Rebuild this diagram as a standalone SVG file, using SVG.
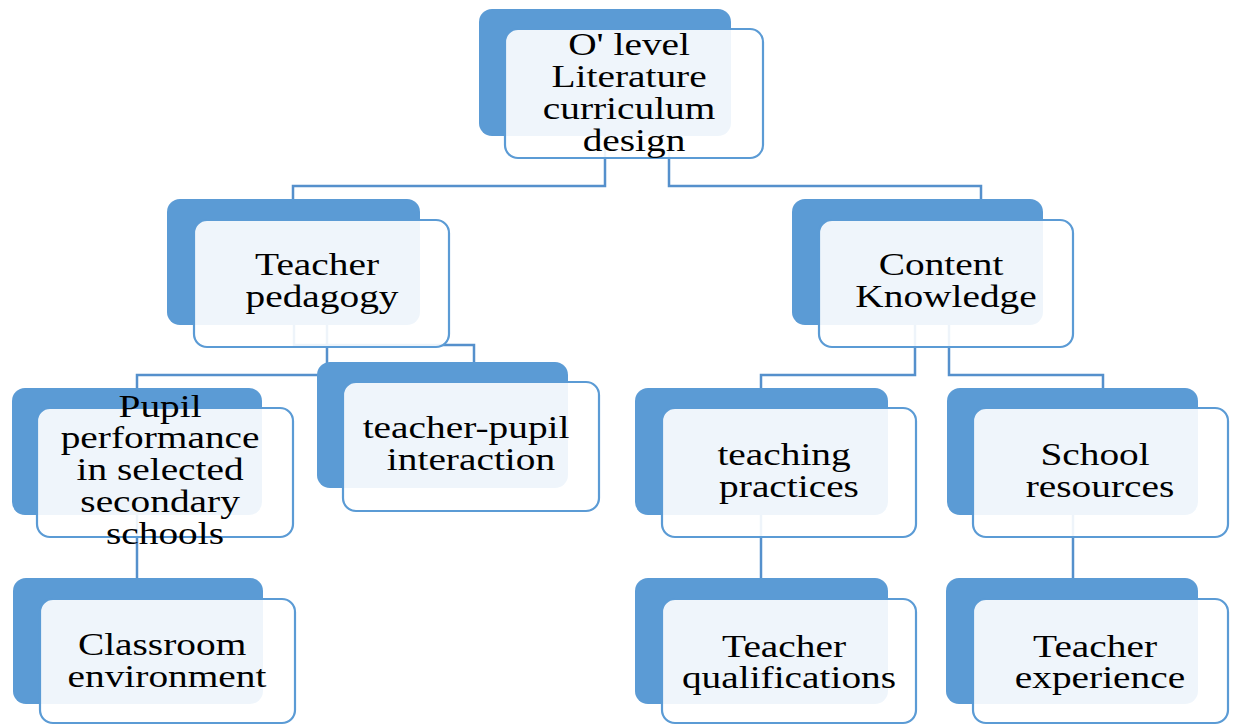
<svg xmlns="http://www.w3.org/2000/svg" width="1233" height="726" viewBox="0 0 1233 726">
  <style>
    .back { fill: #5B9BD5; }
    .front { fill: #ffffff; fill-opacity: 0.9; stroke: #5B9BD5; stroke-width: 2.2; }
    .link { fill: none; stroke: #5590CC; stroke-width: 2.5; }
    .t { font-family: "Liberation Serif", "Times New Roman", serif; font-size: 32px; fill: #000; text-anchor: middle; }
  </style>
  <rect width="1233" height="726" fill="#ffffff"/>

  <!-- connectors (drawn first, nodes sit on top) -->
  <g id="connectors">
    <path class="link" d="M605,136 V186 H293 V199"/>
    <path class="link" d="M669,136 V186 H981 V199"/>
    <path class="link" d="M294,325 V345 H474 V362"/>
    <path class="link" d="M327,325 V375 H137 V388"/>
    <path class="link" d="M915,325 V375 H761 V388"/>
    <path class="link" d="M949,325 V375 H1103 V388"/>
    <path class="link" d="M137,515 V578"/>
    <path class="link" d="M761,515 V578"/>
    <path class="link" d="M1073,515 V578"/>
  </g>

  <!-- root -->
  <g id="node-curriculum">
    <rect class="back" x="479" y="9" width="252" height="127" rx="13"/>
    <rect class="front" x="505" y="29" width="258" height="129" rx="13"/>
    <text class="t" transform="translate(634 0) scale(1.23 1)">
      <tspan x="0" y="55">O' level</tspan>
      <tspan x="0" y="87">Literature</tspan>
      <tspan x="0" y="119">curriculum</tspan>
      <tspan x="0" y="151">design</tspan>
    </text>
  </g>

  <!-- second level -->
  <g id="node-pedagogy">
    <rect class="back" x="167" y="199" width="253" height="126" rx="13"/>
    <rect class="front" x="194" y="220" width="255" height="127" rx="13"/>
    <text class="t" transform="translate(322 0) scale(1.23 1)">
      <tspan x="0" y="275">Teacher</tspan>
      <tspan x="0" y="307">pedagogy</tspan>
    </text>
  </g>

  <g id="node-content">
    <rect class="back" x="792" y="199" width="251" height="126" rx="13"/>
    <rect class="front" x="819" y="220" width="254" height="127" rx="13"/>
    <text class="t" transform="translate(946 0) scale(1.23 1)">
      <tspan x="0" y="275">Content</tspan>
      <tspan x="0" y="307">Knowledge</tspan>
    </text>
  </g>

  <!-- third level -->
  <g id="node-pupil">
    <rect class="back" x="12" y="388" width="250" height="127" rx="13"/>
    <rect class="front" x="37" y="408" width="256" height="129" rx="13"/>
    <text class="t" transform="translate(165 0) scale(1.23 1)">
      <tspan x="0" y="417">Pupil</tspan>
      <tspan x="0" y="448">performance</tspan>
      <tspan x="0" y="480">in selected</tspan>
      <tspan x="0" y="512">secondary</tspan>
      <tspan x="0" y="544">schools</tspan>
    </text>
  </g>

  <g id="node-interaction">
    <rect class="back" x="317" y="362" width="251" height="126" rx="13"/>
    <rect class="front" x="343" y="382" width="256" height="129" rx="13"/>
    <text class="t" transform="translate(471 0) scale(1.23 1)">
      <tspan x="0" y="438">teacher-pupil</tspan>
      <tspan x="0" y="470">interaction</tspan>
    </text>
  </g>

  <g id="node-practices">
    <rect class="back" x="635" y="388" width="253" height="127" rx="13"/>
    <rect class="front" x="662" y="408" width="254" height="129" rx="13"/>
    <text class="t" transform="translate(789 0) scale(1.23 1)">
      <tspan x="0" y="465">teaching</tspan>
      <tspan x="0" y="497">practices</tspan>
    </text>
  </g>

  <g id="node-resources">
    <rect class="back" x="947" y="388" width="251" height="127" rx="13"/>
    <rect class="front" x="973" y="408" width="255" height="129" rx="13"/>
    <text class="t" transform="translate(1100 0) scale(1.23 1)">
      <tspan x="0" y="465">School</tspan>
      <tspan x="0" y="497">resources</tspan>
    </text>
  </g>

  <!-- fourth level -->
  <g id="node-classroom">
    <rect class="back" x="13" y="578" width="250" height="126" rx="13"/>
    <rect class="front" x="40" y="599" width="255" height="124" rx="13"/>
    <text class="t" transform="translate(167 0) scale(1.23 1)">
      <tspan x="0" y="655">Classroom</tspan>
      <tspan x="0" y="687">environment</tspan>
    </text>
  </g>

  <g id="node-qualifications">
    <rect class="back" x="635" y="578" width="253" height="126" rx="13"/>
    <rect class="front" x="662" y="599" width="254" height="124" rx="13"/>
    <text class="t" transform="translate(789 0) scale(1.23 1)">
      <tspan x="0" y="657">Teacher</tspan>
      <tspan x="0" y="688">qualifications</tspan>
    </text>
  </g>

  <g id="node-experience">
    <rect class="back" x="946" y="578" width="252" height="126" rx="13"/>
    <rect class="front" x="973" y="599" width="255" height="124" rx="13"/>
    <text class="t" transform="translate(1100 0) scale(1.23 1)">
      <tspan x="0" y="657">Teacher</tspan>
      <tspan x="0" y="688">experience</tspan>
    </text>
  </g>
</svg>
